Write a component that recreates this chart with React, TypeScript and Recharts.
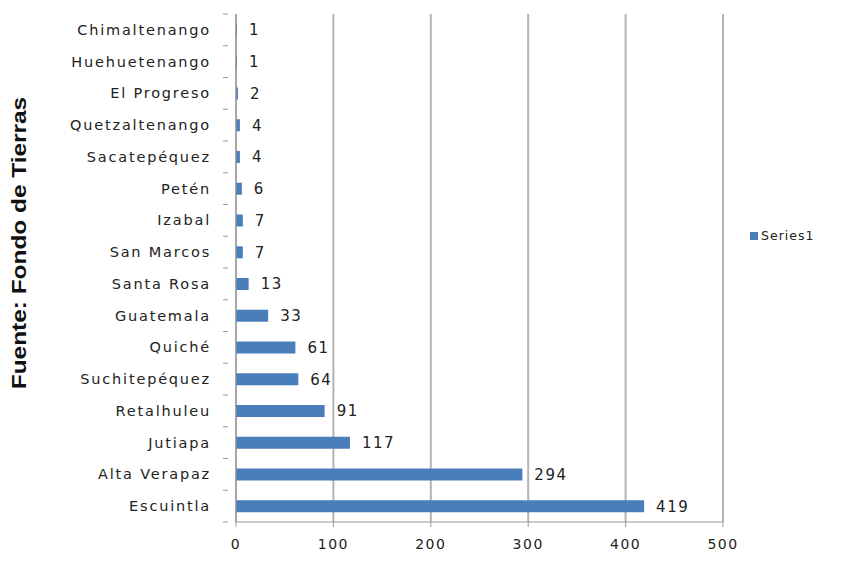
import React from "react";
import {
  Bar,
  BarChart,
  CartesianGrid,
  LabelList,
  Legend,
  XAxis,
  YAxis,
} from "recharts";

const departments = [
  "Chimaltenango",
  "Huehuetenango",
  "El Progreso",
  "Quetzaltenango",
  "Sacatepéquez",
  "Petén",
  "Izabal",
  "San Marcos",
  "Santa Rosa",
  "Guatemala",
  "Quiché",
  "Suchitepéquez",
  "Retalhuleu",
  "Jutiapa",
  "Alta Verapaz",
  "Escuintla",
];
const series1 = [1, 1, 2, 4, 4, 6, 7, 7, 13, 33, 61, 64, 91, 117, 294, 419];
const xTicks = [0, 100, 200, 300, 400, 500];

const data = departments.map((name, i) => ({ name, Series1: series1[i] }));

const BAND = 508 / departments.length;
const labelFont = "'DejaVu Sans', sans-serif";

function CategoryTick(props: any) {
  const { x, y, payload, index } = props;
  return (
    <g>
      <text
        x={x - 17}
        y={y}
        dy={5}
        textAnchor="end"
        fontFamily={labelFont}
        fontSize={14.5}
        letterSpacing={1.8}
        fill="#222"
      >
        {payload.value}
      </text>
      <line x1={x - 5} x2={x} y1={y - BAND / 2} y2={y - BAND / 2} stroke="#999" />
      {index === departments.length - 1 && (
        <line x1={x - 5} x2={x} y1={y + BAND / 2} y2={y + BAND / 2} stroke="#999" />
      )}
    </g>
  );
}

function LegendBox() {
  return (
    <div style={{ display: "flex", alignItems: "center", fontFamily: labelFont, fontSize: 12.5, color: "#222" }}>
      <span style={{ width: 8, height: 8, background: "#4a7ebb", marginRight: 3, display: "inline-block" }} />
      <span style={{ letterSpacing: 1 }}>Series1</span>
    </div>
  );
}

export default function App() {
  return (
    <div style={{ position: "absolute", left: 0, top: 0, width: 867, height: 561, background: "#fff" }}>
      <div
        style={{
          position: "absolute",
          left: 19,
          top: 243,
          transform: "translate(-50%, -50%) rotate(-90deg) scaleX(1.22)",
          whiteSpace: "nowrap",
          fontFamily: "'Liberation Sans', Arial, sans-serif",
          fontWeight: "bold",
          fontSize: 20,
          color: "#111",
        }}
      >
        Fuente: Fondo de Tierras
      </div>
      <BarChart
        width={867}
        height={561}
        data={data}
        layout="vertical"
        margin={{ top: 14, right: 144, bottom: 9, left: 0 }}
      >
        <CartesianGrid horizontal={false} stroke="#b3b3b3" strokeWidth={2} />
        <XAxis
          type="number"
          domain={[0, 500]}
          ticks={xTicks}
          height={30}
          tickSize={5}
          tickMargin={12}
          stroke="#999"
          tick={{ fill: "#222", fontFamily: labelFont, fontSize: 14, letterSpacing: 1.5 }}
        />
        <YAxis
          type="category"
          dataKey="name"
          width={236}
          stroke="#999"
          tickLine={false}
          interval={0}
          tick={<CategoryTick />}
        />
        <Legend
          layout="horizontal"
          verticalAlign="middle"
          align="center"
          content={<LegendBox />}
          wrapperStyle={{ position: "absolute", left: 750, top: 228, width: 90 }}
        />
        <Bar dataKey="Series1" fill="#4a7ebb" barSize={12} isAnimationActive={false}>
          <LabelList
            dataKey="Series1"
            position="right"
            offset={12}
            fill="#222"
            fontFamily={labelFont}
            fontSize={15}
            letterSpacing={1.5}
          />
        </Bar>
      </BarChart>
    </div>
  );
}
